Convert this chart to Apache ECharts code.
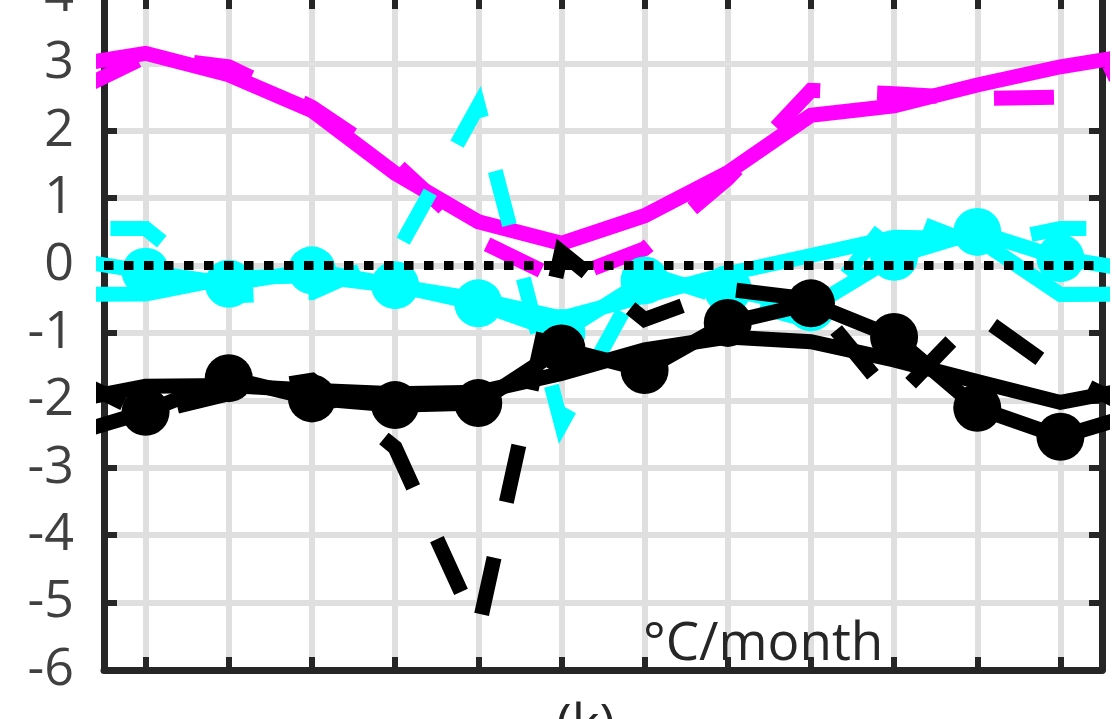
<!DOCTYPE html>
<html><head><meta charset="utf-8">
<script src="https://cdn.jsdelivr.net/npm/echarts@6/dist/echarts.min.js"></script>
<style>html,body{margin:0;padding:0;background:#fff}#c{width:1116px;height:719px}</style>
</head><body><div id="c"></div>
<script>
// month positions (ticks) and y range
const monthTicks = [1,2,3,4,5,6,7,8,9,10,11,12];
const yMin = -6, yMax = 4, yStep = 1;
const unitText = '°C/month';
const panelLabel = '(k)';

// monthly values Jan..Dec
const magentaSolid  = [3.15, 2.83, 2.30, 1.37, 0.65, 0.33, 0.74, 1.38, 2.23, 2.37, 2.68, 2.95];
const magentaDashed = [3.10, 2.95, 2.35, 1.52, 0.38, -0.22, 0.25, 1.29, 2.60, 2.55, 2.48, 2.50];
const cyanMarked    = [-0.09, -0.27, -0.07, -0.29, -0.56, -1.00, -0.22, -0.35, -0.62, 0.13, 0.50, 0.11];
const cyanSolid     = [-0.42, -0.18, -0.15, -0.30, -0.50, -0.78, -0.45, -0.12, 0.15, 0.42, 0.40, -0.43];
const cyanDashed    = [0.55, -0.45, -0.40, 0.15, 2.37, -2.35, -0.10, -0.50, -0.82, 0.78, 0.30, 0.55];
const blackMarked   = [-2.17, -1.67, -1.97, -2.07, -2.04, -1.23, -1.55, -0.85, -0.56, -1.06, -2.11, -2.54];
const blackSolid    = [-1.79, -1.78, -1.85, -1.90, -1.88, -1.60, -1.25, -1.06, -1.13, -1.40, -1.72, -2.03];
const blackDashed   = [-2.20, -1.90, -1.70, -2.70, -5.40, 0.20, -0.80, -0.35, -0.50, -2.00, -0.72, -1.60];
const zeroLine      = [[0.5, 0], [12.5, 0]];

// cyclic: December repeated before January, January after December
function wrap(v) {
  const out = [[0, v[11]]];
  v.forEach((y, i) => out.push([monthTicks[i], y]));
  out.push([13, v[0]]);
  return out;
}

const AX = '#262626';
const LW = 15;
function line(data, color, type, marker, z, offset) {
  return {
    type: 'line', data: wrap(data), z: z, clip: true, animation: false,
    symbol: marker ? 'circle' : 'none', symbolSize: 48, showSymbol: !!marker,
    itemStyle: { color: color },
    lineStyle: { color: color, width: LW, type: type, dashOffset: offset || 0, cap: 'butt', join: 'miter' }
  };
}

const chart = echarts.init(document.getElementById('c'), null, { renderer: 'canvas' });
const tickStyle = { show: true, inside: true, length: 13, lineStyle: { color: AX, width: 6 } };
chart.setOption({
  animation: false,
  backgroundColor: '#ffffff',
  grid: { left: 104, right: 14, top: -4, bottom: 49, containLabel: false, outerBoundsMode: 'none' },
  xAxis: [
    { type: 'value', min: 0.5, max: 12.5, position: 'bottom',
      axisLine: { show: true, onZero: false, lineStyle: { color: AX, width: 7 } },
      axisTick: Object.assign({ customValues: monthTicks }, tickStyle),
      axisLabel: { show: false },
      splitLine: { show: true, lineStyle: { color: '#dfdfdf', width: 6 } } },
    { type: 'value', min: 0.5, max: 12.5, position: 'top',
      axisLine: { show: true, onZero: false, lineStyle: { color: AX, width: 7 } },
      axisTick: Object.assign({ customValues: monthTicks }, tickStyle),
      axisLabel: { show: false }, splitLine: { show: false } }
  ],
  yAxis: [
    { type: 'value', min: yMin, max: yMax, interval: yStep, position: 'left',
      axisLine: { show: true, onZero: false, lineStyle: { color: AX, width: 7 } },
      axisTick: tickStyle,
      axisLabel: { show: true, color: '#404040', fontFamily: 'Open Sans', fontSize: 52, margin: 30 },
      splitLine: { show: true, lineStyle: { color: '#dfdfdf', width: 6 } } },
    { type: 'value', min: yMin, max: yMax, interval: yStep, position: 'right',
      axisLine: { show: true, onZero: false, lineStyle: { color: AX, width: 7 } },
      axisTick: tickStyle, axisLabel: { show: false }, splitLine: { show: false } }
  ],
  series: [
    line(magentaSolid, '#ff00ff', 'solid', false, 2),
    line(magentaDashed, '#ff00ff', [60, 57], false, 3, 93),
    line(cyanSolid, '#00ffff', 'solid', false, 4),
    line(cyanMarked, '#00ffff', 'solid', true, 5),
    line(cyanDashed, '#00ffff', [56, 55], false, 6, 63),
    line(blackSolid, '#000000', 'solid', false, 7),
    line(blackMarked, '#000000', 'solid', true, 8),
    line(blackDashed, '#000000', [58, 57], false, 9, 105),
    { type: 'line', data: zeroLine, z: 10, symbol: 'none', animation: false,
      lineStyle: { color: '#000000', width: 9, type: [9.5, 10.5], cap: 'butt' } }
  ],
  graphic: [
    { type: 'text', left: 643, top: 618, z: 20,
      style: { text: unitText, fill: '#262626', font: '53px "Open Sans"' } },
    { type: 'text', left: 556, top: 700, z: 20,
      style: { text: panelLabel, fill: '#262626', font: '53px "Open Sans"' } }
  ]
});
</script></body></html>
